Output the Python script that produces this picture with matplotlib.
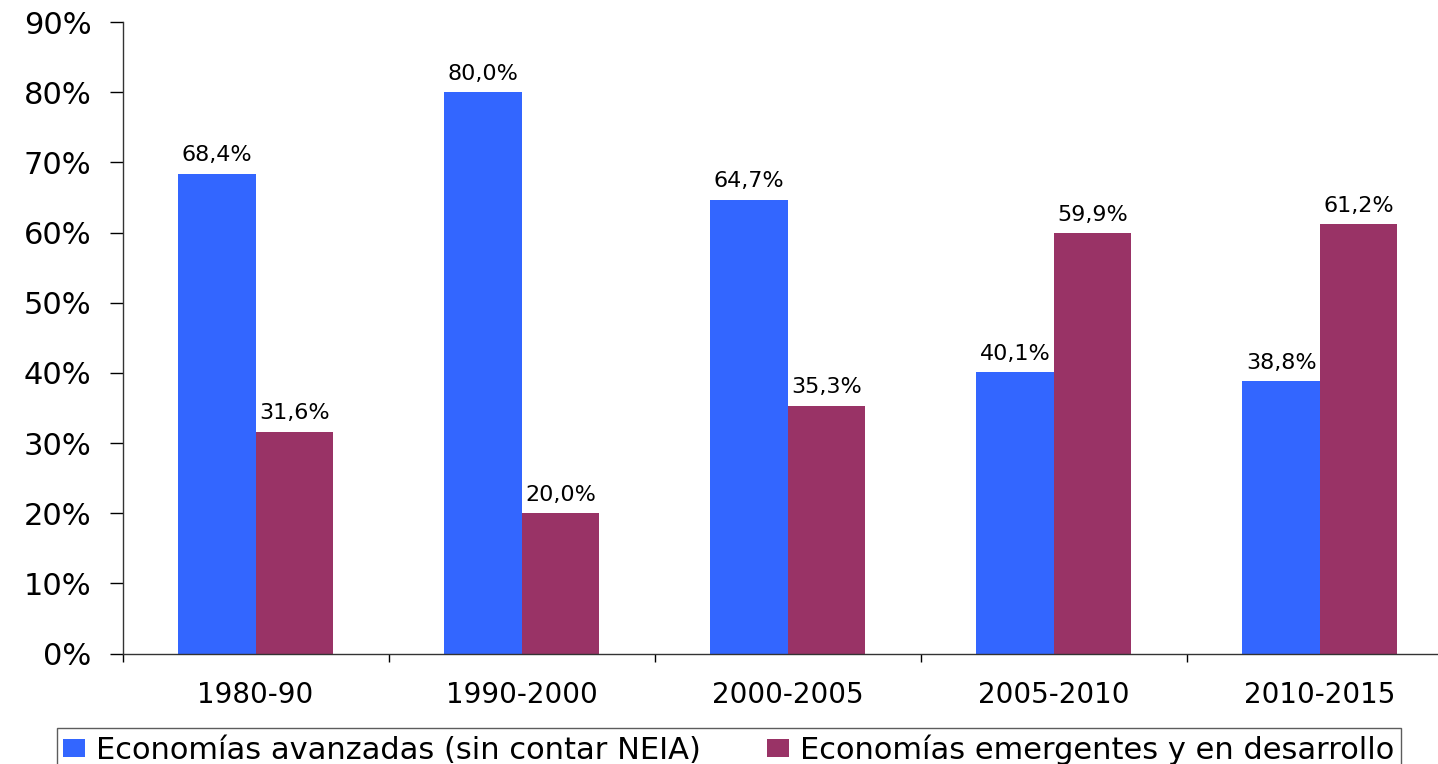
import matplotlib
matplotlib.use("Agg")
import matplotlib.pyplot as plt
import numpy as np
from matplotlib.ticker import FuncFormatter

periods = ["1980-90", "1990-2000", "2000-2005", "2005-2010", "2010-2015"]
avanzadas = [68.4, 80.0, 64.7, 40.1, 38.8]
emergentes = [31.6, 20.0, 35.3, 59.9, 61.2]
series_names = ["Economías avanzadas (sin contar NEIA)", "Economías emergentes y en desarrollo"]

plt.rcParams["font.family"] = ["DejaVu Sans"]

fig = plt.figure(figsize=(14.38, 7.64), dpi=100)
ax = fig.add_axes([0.0852, 0.1446, 0.9252, 0.8266])

x = np.arange(len(periods))
w = 0.291
b1 = ax.bar(x - w / 2, avanzadas, w, color="#3366FF", label=series_names[0])
b2 = ax.bar(x + w / 2, emergentes, w, color="#993366", label=series_names[1])

for bars, vals in ((b1, avanzadas), (b2, emergentes)):
    for rect, v in zip(bars, vals):
        ax.annotate(f"{v:.1f}%".replace(".", ","),
                    (rect.get_x() + rect.get_width() / 2, v),
                    xytext=(0, 6), textcoords="offset points",
                    ha="center", va="bottom", fontsize=16)

ax.set_xlim(-0.5, len(periods) - 0.5)
ax.set_ylim(0, 90)
ax.set_yticks(np.arange(0, 91, 10))
ax.yaxis.set_major_formatter(FuncFormatter(lambda v, p: f"{v:.0f}%"))
ax.set_xticks(x)
ax.set_xticklabels(periods)
ax.set_xticks(np.arange(-0.5, len(periods), 1), minor=True)

ax.tick_params(axis="y", direction="out", length=9.5, width=1, labelsize=22, pad=13)
ax.tick_params(axis="x", which="major", length=0, labelsize=20, pad=20)
ax.tick_params(axis="x", which="minor", direction="out", length=6, width=1)

for s in ("top", "right"):
    ax.spines[s].set_visible(False)
for s in ("left", "bottom"):
    ax.spines[s].set_color("#333333")
    ax.spines[s].set_linewidth(1)

x0 = 56.7 / 1438
y1 = 1 - 727.7 / 764
leg = fig.legend(loc="upper left", bbox_to_anchor=(x0, y1 - 0.06, 1400.7 / 1438 - x0, 0.06),
                 mode="expand", ncol=2, fontsize=22, frameon=True, fancybox=False,
                 handlelength=0.72, handleheight=0.52, handletextpad=0.35,
                 columnspacing=0.3, borderpad=0.22, borderaxespad=0)
leg.get_frame().set_edgecolor("#333333")
leg.get_frame().set_linewidth(1)

fig.savefig("out.png", dpi=100)
